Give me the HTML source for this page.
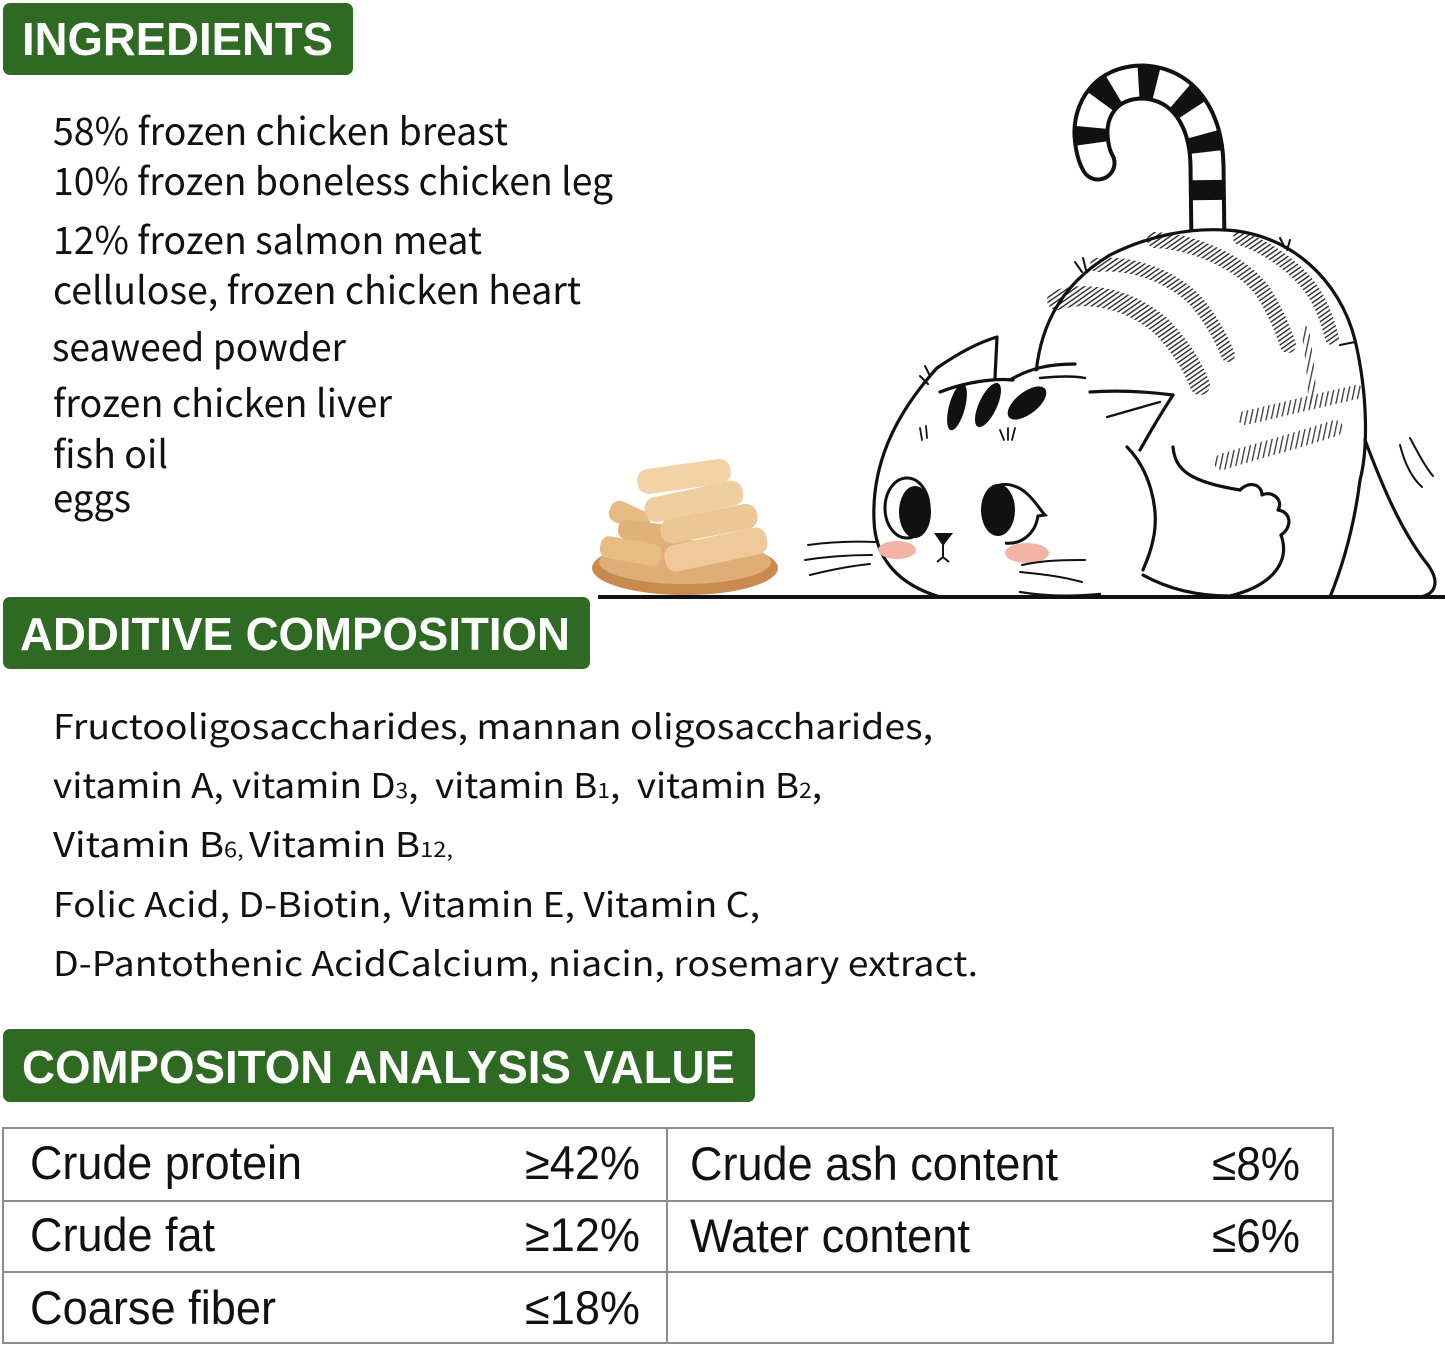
<!DOCTYPE html>
<html>
<head>
<meta charset="utf-8">
<style>
  html,body{margin:0;padding:0;background:#fff;}
  body{width:1445px;height:1348px;overflow:hidden;position:relative;}
  svg{position:absolute;left:0;top:0;}
  .h{font-family:"Liberation Sans",Arial,sans-serif;font-weight:bold;fill:#fff;font-size:46px;}
  .ing{font-family:"Noto Sans CJK SC","Liberation Sans",sans-serif;fill:#111;font-size:38px;}
  .add{font-family:"Noto Sans CJK SC","Liberation Sans",sans-serif;fill:#111;font-size:34px;white-space:pre;}
  .tb{font-family:"Liberation Sans",Arial,sans-serif;fill:#111;font-size:47px;}
</style>
</head>
<body>
<svg width="1445" height="1348" viewBox="0 0 1445 1348" xmlns="http://www.w3.org/2000/svg">
  <defs>
    <pattern id="hatch" width="4" height="4" patternUnits="userSpaceOnUse" patternTransform="rotate(55)">
      <rect width="1.5" height="4" fill="#222"/>
    </pattern>
    <pattern id="hatch2" width="5" height="5" patternUnits="userSpaceOnUse" patternTransform="rotate(12)">
      <rect width="1.3" height="5" fill="#222"/>
    </pattern>
  </defs>

  <!-- Heading boxes -->
  <rect x="3" y="3" width="350" height="72" rx="7" fill="#2f6a22"/>
  <text class="h" x="22" y="55" textLength="311" lengthAdjust="spacingAndGlyphs">INGREDIENTS</text>

  <rect x="3" y="597" width="587" height="72" rx="7" fill="#2f6a22"/>
  <text class="h" x="20" y="650" textLength="550" lengthAdjust="spacingAndGlyphs">ADDITIVE COMPOSITION</text>

  <rect x="3" y="1029" width="752" height="73" rx="7" fill="#2f6a22"/>
  <text class="h" x="22" y="1083" textLength="713" lengthAdjust="spacingAndGlyphs">COMPOSITON ANALYSIS VALUE</text>

  <!-- Ingredients -->
  <text class="ing" x="53" y="145" textLength="455" lengthAdjust="spacingAndGlyphs">58% frozen chicken breast</text>
  <text class="ing" x="53" y="195" textLength="560" lengthAdjust="spacingAndGlyphs">10% frozen boneless chicken leg</text>
  <text class="ing" x="53" y="254" textLength="429" lengthAdjust="spacingAndGlyphs">12% frozen salmon meat</text>
  <text class="ing" x="53" y="304" textLength="528" lengthAdjust="spacingAndGlyphs">cellulose, frozen chicken heart</text>
  <text class="ing" x="52" y="361" textLength="294" lengthAdjust="spacingAndGlyphs">seaweed powder</text>
  <text class="ing" x="53" y="417" textLength="339" lengthAdjust="spacingAndGlyphs">frozen chicken liver</text>
  <text class="ing" x="53" y="468" textLength="115" lengthAdjust="spacingAndGlyphs">fish oil</text>
  <text class="ing" x="53" y="512" textLength="78" lengthAdjust="spacingAndGlyphs">eggs</text>

  <!-- Additive composition -->
  <text class="add" x="53" y="739" textLength="880" lengthAdjust="spacingAndGlyphs">Fructooligosaccharides, mannan oligosaccharides,</text>
  <text class="add" x="53" y="798" textLength="769" lengthAdjust="spacingAndGlyphs">vitamin A, vitamin D<tspan font-size="21">3</tspan>,  vitamin B<tspan font-size="21">1</tspan>,  vitamin B<tspan font-size="21">2</tspan>,</text>
  <text class="add" x="53" y="857" textLength="400" lengthAdjust="spacingAndGlyphs">Vitamin B<tspan font-size="21">6, </tspan>Vitamin B<tspan font-size="21">12,</tspan></text>
  <text class="add" x="53" y="917" textLength="707" lengthAdjust="spacingAndGlyphs">Folic Acid, D-Biotin, Vitamin E, Vitamin C,</text>
  <text class="add" x="53" y="976" textLength="925" lengthAdjust="spacingAndGlyphs">D-Pantothenic AcidCalcium, niacin, rosemary extract.</text>

  <!-- Table -->
  <g stroke="#8c8c8c" stroke-width="2" fill="none">
    <rect x="3" y="1128" width="1330" height="215"/>
    <line x1="3" y1="1201" x2="1333" y2="1201"/>
    <line x1="3" y1="1272" x2="1333" y2="1272"/>
    <line x1="667" y1="1128" x2="667" y2="1343"/>
  </g>
  <text class="tb" x="30" y="1179" textLength="272" lengthAdjust="spacingAndGlyphs">Crude protein</text>
  <text class="tb" x="30" y="1251" textLength="185" lengthAdjust="spacingAndGlyphs">Crude fat</text>
  <text class="tb" x="30" y="1324" textLength="246" lengthAdjust="spacingAndGlyphs">Coarse fiber</text>
  <text class="tb" x="525" y="1179" textLength="115" lengthAdjust="spacingAndGlyphs">≥42%</text>
  <text class="tb" x="525" y="1251" textLength="115" lengthAdjust="spacingAndGlyphs">≥12%</text>
  <text class="tb" x="525" y="1324" textLength="115" lengthAdjust="spacingAndGlyphs">≤18%</text>
  <text class="tb" x="690" y="1180" textLength="368" lengthAdjust="spacingAndGlyphs">Crude ash content</text>
  <text class="tb" x="690" y="1252" textLength="280" lengthAdjust="spacingAndGlyphs">Water content</text>
  <text class="tb" x="1212" y="1180" textLength="88" lengthAdjust="spacingAndGlyphs">≤8%</text>
  <text class="tb" x="1212" y="1252" textLength="88" lengthAdjust="spacingAndGlyphs">≤6%</text>

  <!-- ===== Illustration ===== -->
  <!-- Tail -->
  <path d="M1208,245 L1207,165 C1206,120 1185,84 1143,82 C1105,82 1090,110 1091,135 C1092,150 1095,158 1098,163" fill="none" stroke="#111" stroke-width="37" stroke-linecap="round"/>
  <path d="M1208,245 L1207,165 C1206,120 1185,84 1143,82 C1105,82 1090,110 1091,135 C1092,150 1095,158 1098,163" fill="none" stroke="#fff" stroke-width="29" stroke-linecap="round"/>
  <path d="M1208,245 L1207,165 C1206,120 1185,84 1143,82 C1105,82 1090,110 1091,135 C1092,150 1095,158 1098,163" fill="none" stroke="#111" stroke-width="30" stroke-dasharray="0 45 20 28 18 27 18 27 18 26 18 28 16 300"/>

  <!-- Body fill -->
  <path d="M1035,400 C1035,330 1060,285 1110,255 C1150,235 1190,228 1225,230 C1290,233 1340,280 1355,340 C1368,395 1368,450 1360,470 L1420,560 L1430,597 L1040,597 Z" fill="#fff"/>
  <!-- Hatching bands -->
  <g fill="none" stroke-linecap="round" opacity="0.9">
    <path d="M1057,300 C1090,290 1130,300 1160,325 C1180,345 1192,365 1200,385" stroke="url(#hatch)" stroke-width="20"/>
    <path d="M1097,265 C1130,262 1170,275 1195,300 C1212,320 1222,340 1228,355" stroke="url(#hatch)" stroke-width="14"/>
    <path d="M1155,240 C1195,242 1240,262 1262,290 C1275,310 1283,330 1288,345" stroke="url(#hatch)" stroke-width="16"/>
    <path d="M1240,238 C1275,250 1305,275 1318,300 C1326,315 1330,330 1332,338" stroke="url(#hatch)" stroke-width="14"/>
    <path d="M1245,418 C1280,410 1320,400 1357,392" stroke="url(#hatch2)" stroke-width="14"/>
    <path d="M1222,462 C1260,450 1300,440 1335,428" stroke="url(#hatch2)" stroke-width="16"/>
    <path d="M1305,330 C1310,360 1312,385 1312,400" stroke="url(#hatch2)" stroke-width="8"/>
  </g>
  <!-- Body outline -->
  <g fill="none" stroke="#111" stroke-width="3.2" stroke-linecap="round" stroke-linejoin="round">
    <path d="M1035,395 C1035,330 1060,285 1110,255 C1150,235 1190,228 1225,230 C1290,233 1340,280 1355,340 C1368,395 1368,450 1360,480 C1355,520 1345,560 1330,597"/>
    <path d="M1365,440 C1380,480 1400,530 1428,565 C1440,582 1436,594 1420,597"/>
    <path d="M1173,447 C1175,470 1190,482 1240,490"/>
    <path d="M1240,490 C1250,480 1262,485 1262,495 C1272,490 1284,500 1278,510 C1292,512 1292,528 1281,535"/>
    <path d="M1281,535 C1290,560 1275,585 1230,596"/>
    <path d="M1143,575 C1170,590 1200,596 1230,596"/>
    <path d="M1400,445 C1405,465 1412,478 1422,487" stroke-width="2"/>
    <path d="M1410,438 C1418,453 1426,468 1433,476" stroke-width="2"/>
    <path d="M1075,262 L1082,272 M1083,258 L1086,270" stroke-width="2"/>
    <path d="M1280,238 L1285,248 M1290,240 L1287,250" stroke-width="2"/>
    <path d="M1340,345 L1355,342" stroke-width="2"/>
  </g>

  <!-- Head fill -->
  <path d="M940,597 C900,585 875,560 874,520 C872,470 890,420 937,368 L997,337 L1000,380 C1040,365 1070,368 1090,392 L1173,395 L1140,450 C1155,480 1160,530 1145,565 C1130,590 1100,597 1060,597 Z" fill="#fff"/>
  <!-- Head outlines -->
  <g fill="none" stroke="#111" stroke-width="3.2" stroke-linecap="round" stroke-linejoin="round">
    <path d="M940,597 C900,585 875,560 874,520 C872,470 890,420 937,368 C960,352 980,342 997,337 L995,378"/>
    <path d="M940,392 C965,382 995,378 1013,380"/>
    <path d="M1010,380 C1030,368 1050,364 1075,364"/>
    <path d="M1040,378 C1060,376 1075,376 1085,378" stroke-width="2.4"/>
    <path d="M1090,392 C1120,390 1150,392 1173,395 C1160,415 1150,432 1140,450"/>
    <path d="M1107,417 C1125,412 1145,406 1160,402" stroke-width="2.4"/>
    <path d="M1127,447 C1150,470 1160,510 1153,540 C1150,555 1146,562 1143,570"/>
    <path d="M1020,592 C1050,597 1080,596 1100,594" stroke-width="2.4"/>
    <path d="M920,376 L928,384 M925,366 L930,376" stroke-width="2"/>
    <path d="M920,428 L922,440 M926,426 L927,438" stroke-width="1.8"/>
    <path d="M1000,430 L1004,440 M1008,428 L1008,440 M1015,428 L1012,440" stroke-width="1.8"/>
  </g>
  <!-- Forehead stripes -->
  <ellipse cx="957" cy="407" rx="8" ry="24" transform="rotate(15 957 407)" fill="#111"/>
  <ellipse cx="988" cy="405" rx="9" ry="24" transform="rotate(25 988 405)" fill="#111"/>
  <ellipse cx="1027" cy="403" rx="11" ry="23" transform="rotate(52 1027 403)" fill="#111"/>
  <!-- Eyes -->
  <ellipse cx="907" cy="508" rx="22" ry="30" fill="#fff" stroke="#111" stroke-width="3"/>
  <ellipse cx="915" cy="512" rx="16" ry="26" fill="#111"/>
  <path d="M985,500 C990,482 1010,480 1025,492 C1035,500 1040,510 1045,515 L1038,516 C1035,535 1020,545 1005,543" fill="#fff" stroke="#111" stroke-width="3"/>
  <ellipse cx="998" cy="510" rx="17" ry="26" fill="#111"/>
  <!-- Nose & mouth -->
  <path d="M934,533 L953,533 L943,546 Z" fill="#111"/>
  <path d="M943,545 L943,557 M937,562 L943,557 L949,562" fill="none" stroke="#111" stroke-width="2"/>
  <!-- Blush -->
  <ellipse cx="897" cy="550" rx="19" ry="9" fill="#f2b5a4"/>
  <ellipse cx="1027" cy="553" rx="22" ry="10" fill="#f2b5a4"/>
  <!-- Whiskers -->
  <g stroke="#111" stroke-width="2" fill="none" stroke-linecap="round">
    <path d="M808,545 C830,542 850,541 875,542"/>
    <path d="M805,560 C830,556 850,555 872,555"/>
    <path d="M810,575 C830,570 850,566 870,564"/>
    <path d="M1022,565 C1045,560 1065,560 1085,560"/>
    <path d="M1020,572 C1040,574 1060,576 1082,582"/>
  </g>

  <!-- Treats on plate -->
  <ellipse cx="685" cy="568" rx="93" ry="27" fill="#c98a50"/>
  <ellipse cx="685" cy="562" rx="86" ry="22" fill="#dfae78"/>
  <g>
    <rect x="600" y="540" width="62" height="22" rx="9" transform="rotate(10 631 550)" fill="#e8bd85"/>
    <rect x="608" y="506" width="42" height="22" rx="9" transform="rotate(25 630 518)" fill="#e6bb84"/>
    <rect x="618" y="522" width="52" height="20" rx="9" transform="rotate(8 645 531)" fill="#e0b27b"/>
    <rect x="664" y="536" width="104" height="27" rx="11" transform="rotate(-12 716 550)" fill="#eec99a"/>
    <rect x="660" y="511" width="98" height="25" rx="11" transform="rotate(-11 710 524)" fill="#ecc693"/>
    <rect x="644" y="489" width="100" height="25" rx="11" transform="rotate(-12 694 502)" fill="#f0cf9f"/>
    <rect x="637" y="464" width="94" height="25" rx="11" transform="rotate(-8 684 477)" fill="#f2d3a6"/>
  </g>

  <!-- Ground line -->
  <line x1="598" y1="597" x2="1445" y2="597" stroke="#111" stroke-width="4"/>
</svg>
</body>
</html>
